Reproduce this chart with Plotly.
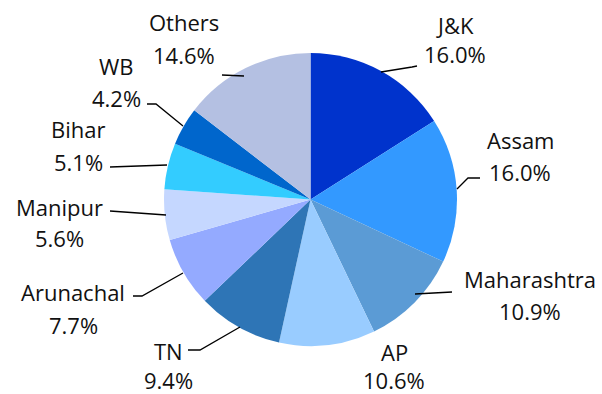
import plotly.graph_objects as go

states = ["J&K", "Assam", "Maharashtra", "AP", "TN", "Arunachal", "Manipur", "Bihar", "WB", "Others"]
shares = [16.0, 16.0, 10.9, 10.6, 9.4, 7.7, 5.6, 5.1, 4.2, 14.6]
colors = ["#0033CC", "#3399FF", "#5B9BD5", "#99CCFF", "#2E75B6",
          "#94AAFF", "#C5D7FF", "#33CCFF", "#0066CC", "#B4C0E2"]

W, H = 602, 394

# label positions in pixels: (x centre, y of name line, y of percent line)
label_pos = [(455, 25, 54), (520, 140, 172), (530, 279, 311), (394, 352, 380),
             (168, 351, 380), (73, 292, 325), (59, 207, 238), (78, 129, 162),
             (116, 66, 98), (184, 22, 55)]
# leader line paths in pixels (label side first), None = no leader
leaders = [
    [(417, 66), (412, 67), (381, 72)],
    [(480, 178), (468, 178), (457, 189)],
    [(452, 292), (415, 294)],
    None,
    [(188, 350), (200, 350), (240, 327)],
    [(133, 296), (142, 296), (183, 273)],
    [(110, 211), (166, 215)],
    [(110, 167), (167, 165)],
    [(147, 104), (156, 104), (183, 126)],
    [(222, 75), (244, 76)],
]


def px(x):
    return x / W


def py(y):
    return 1 - y / H


fig = go.Figure(go.Pie(
    labels=states, values=shares, sort=False, direction="clockwise", rotation=0,
    marker=dict(colors=colors, line=dict(width=0)),
    textinfo="none", hoverinfo="label+percent", showlegend=False,
    domain=dict(x=[164 / W, 457 / W], y=[py(346), py(53)]),
))

font = dict(family="Open Sans", size=22, color="#111111")
annotations = []
shapes = []
for name, v, (lx, ny, vy), path in zip(states, shares, label_pos, leaders):
    for txt, yy in ((name, ny), (f"{v:.1f}%", vy)):
        annotations.append(dict(
            x=px(lx), y=py(yy), xref="paper", yref="paper", showarrow=False,
            text=txt, xanchor="center", yanchor="middle", font=font,
        ))
    if path:
        d = "M " + " L ".join(f"{px(x)} {py(y)}" for x, y in path)
        shapes.append(dict(type="path", xref="paper", yref="paper", path=d,
                           line=dict(color="#000000", width=1.3)))

fig.update_layout(
    width=W, height=H, margin=dict(l=0, r=0, t=0, b=0),
    paper_bgcolor="white", plot_bgcolor="white",
    annotations=annotations, shapes=shapes,
)

fig.write_html("out.html", config={"displayModeBar": False},
               post_script="document.body.style.margin='0px';")
